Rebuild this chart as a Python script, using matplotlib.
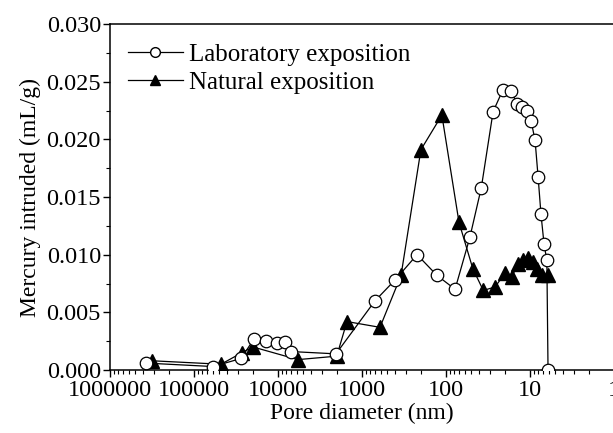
import matplotlib
matplotlib.use("Agg")
import matplotlib.pyplot as plt
from matplotlib.lines import Line2D
from matplotlib.ticker import LogLocator, MultipleLocator, FormatStrFormatter, FixedFormatter, FixedLocator

plt.rcParams['font.family'] = ['Liberation Serif', 'DejaVu Serif']

# laboratory exposition (open circles)
lab_d = [372000, 59400, 27500, 19300, 13900, 10300, 8260, 7000, 2040, 700, 405, 221,
         128, 78, 52, 38, 27.5, 21, 16.8, 14.3, 12.4, 10.9, 9.7, 8.7, 8.0, 7.4, 6.8, 6.3, 6.1]
lab_v = [0.0006, 0.0003, 0.0010, 0.0027, 0.0025, 0.0023, 0.0024, 0.0016, 0.0014, 0.0060, 0.0078, 0.0100,
         0.0082, 0.0070, 0.0115, 0.0158, 0.0224, 0.0243, 0.0242, 0.0231, 0.0228, 0.0225, 0.0216, 0.0199,
         0.0167, 0.0135, 0.0109, 0.0095, 0.0]

# natural exposition (filled triangles)
nat_d = [316000, 47700, 26900, 19900, 5800, 2000, 1510, 611, 343, 199, 112, 70, 48, 36,
         26, 19.9, 16.4, 13.9, 12.1, 10.6, 9.2, 8.3, 7.2, 6.1]
nat_v = [0.0008, 0.0005, 0.0015, 0.0020, 0.0009, 0.0012, 0.0042, 0.0037, 0.0082, 0.0191, 0.0221, 0.0128,
         0.0088, 0.0069, 0.0072, 0.0084, 0.0081, 0.0092, 0.0095, 0.0097, 0.0094, 0.0088, 0.0082, 0.0082]

x_ticks = [1e6, 1e5, 1e4, 1e3, 1e2, 1e1, 1]
x_labels = ['1000000', '100000', '10000', '1000', '100', '10', '1']

fig = plt.figure(figsize=(6.13, 4.33), dpi=100)
ax = fig.add_axes([110 / 613, 1 - 370 / 433, 504 / 613, 346 / 433])

ax.plot(nat_d, nat_v, color='black', lw=0.9, marker='^', ms=9.5,
        mfc='black', mec='black', zorder=2)
ax.plot(lab_d, lab_v, color='black', lw=0.9, marker='o', ms=9,
        mfc='white', mec='black', mew=0.9, zorder=3)

ax.set_xscale('log')
ax.set_xlim(1e6, 1)
ax.set_ylim(0, 0.030)

ax.xaxis.set_major_locator(FixedLocator(x_ticks))
ax.xaxis.set_major_formatter(FixedFormatter(x_labels))
ax.xaxis.set_minor_locator(LogLocator(base=10, subs=range(2, 10), numticks=20))
ax.xaxis.set_minor_formatter(plt.NullFormatter())
ax.yaxis.set_major_locator(MultipleLocator(0.005))
ax.yaxis.set_minor_locator(MultipleLocator(0.0025))
ax.yaxis.set_major_formatter(FormatStrFormatter('%.3f'))

ax.tick_params(which='major', direction='out', length=5, width=1, labelsize=17.5, pad=1.5)
ax.tick_params(axis='x', which='major', pad=2.5)
ax.tick_params(which='minor', direction='out', length=3, width=0.8)
ax.tick_params(top=False, right=False)
for s in ax.spines.values():
    s.set_linewidth(1.1)

ax.set_xlabel('Pore diameter (nm)', fontsize=17, labelpad=1)
ax.set_ylabel('Mercury intruded (mL/g)', fontsize=17, labelpad=4)

handles = [
    Line2D([], [], color='black', lw=0.9, marker='o', ms=7, mfc='white', mec='black'),
    Line2D([], [], color='black', lw=0.9, marker='^', ms=7, mfc='black', mec='black'),
]
ax.legend(handles, ['Laboratory exposition', 'Natural exposition'], loc='upper left',
          frameon=False, fontsize=18, handlelength=2.2, handletextpad=0.25,
          labelspacing=0.22, borderaxespad=0.3, bbox_to_anchor=(0.0, 0.995))

fig.savefig('out.png', dpi=100)
